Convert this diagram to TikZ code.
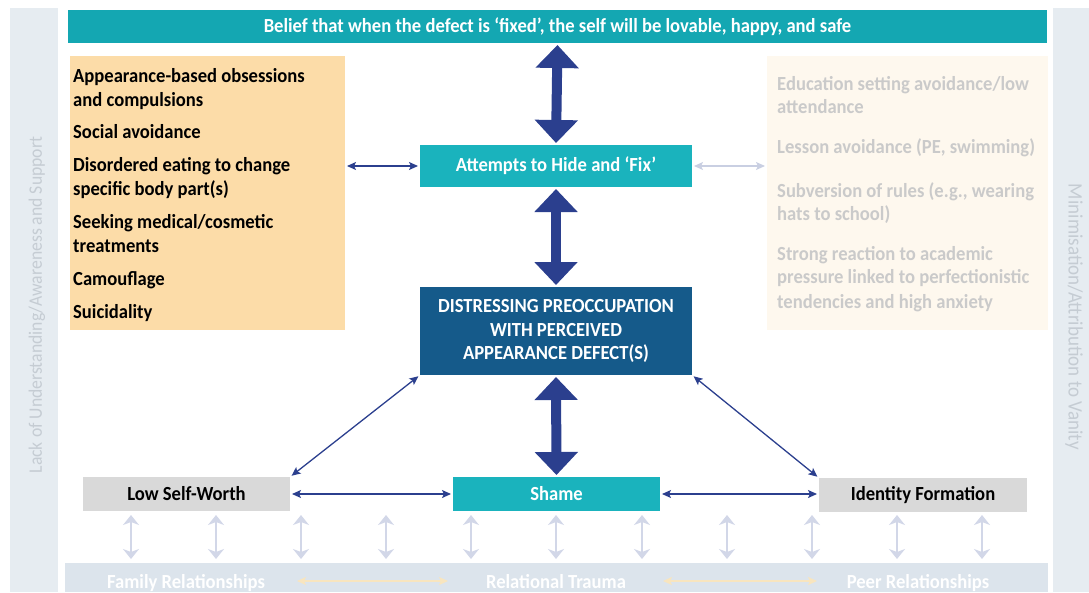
\documentclass[tikz,border=0pt]{standalone}
\usepackage{fontspec}
\setmainfont{Carlito}[FakeStretch=0.93]
\usetikzlibrary{arrows.meta}

\definecolor{tealtop}{HTML}{14A7B2}
\definecolor{tealmid}{HTML}{1AB3BD}
\definecolor{darkbox}{HTML}{155A8A}
\definecolor{navy}{HTML}{2B3F8E}
\definecolor{orangebox}{HTML}{FCDCA8}
\definecolor{creambox}{HTML}{FEF8EE}
\definecolor{fadedtext}{HTML}{CACACA}
\definecolor{greybox}{HTML}{D9D9D9}
\definecolor{sideband}{HTML}{E6ECF1}
\definecolor{sidetext}{HTML}{C5CCD3}
\definecolor{baseband}{HTML}{DCE4EC}
\definecolor{faintarrow}{HTML}{D2D7E8}
\definecolor{creamarrow}{HTML}{F8E5BF}
\definecolor{lightlink}{HTML}{C9CFE2}

\newcommand{\lbl}{\fontsize{20}{23.5}\selectfont\bfseries}

\begin{document}
\begin{tikzpicture}[x=1pt,y=-1pt,
  panel/.style={inner sep=0pt, outer sep=0pt, draw=none},
  itemtext/.style={anchor=base west, inner sep=0pt, font=\lbl},
  bigarrow/.style={draw=navy, line width=10pt,
    {Triangle[width=42pt,length=23pt]}-{Triangle[width=42pt,length=23pt]},
    shorten >=2pt, shorten <=2pt},
  link/.style={draw=navy, line width=1.3pt,
    {Stealth[length=9pt,width=8pt,inset=2pt]}-{Stealth[length=9pt,width=8pt,inset=2pt]},
    shorten >=2pt, shorten <=2pt},
  faintlink/.style={link, draw=lightlink},
  updown/.style={draw=faintarrow, line width=2.8pt,
    {Stealth[length=10pt,width=16pt,inset=3pt]}-{Stealth[length=10pt,width=16pt,inset=3pt]}},
  basearrow/.style={draw=creamarrow, line width=1.3pt,
    {Stealth[length=9pt,width=8pt,inset=2pt]}-{Stealth[length=9pt,width=8pt,inset=2pt]}}
]
\useasboundingbox (0,0) rectangle (1089,592);

% side bands
\node[panel, fill=sideband, minimum width=48pt, minimum height=584pt] (lband) at (34,300) {};
\node[panel, fill=sideband, minimum width=36pt, minimum height=584pt] (rband) at (1071,300) {};
\node[rotate=90, text=sidetext, font=\fontsize{19}{23}\selectfont, inner sep=0pt] (ltext) at (37,305)
  {Lack of Understanding/Awareness and Support};
\node[rotate=-90, text=sidetext, font=\fontsize{20.5}{23}\selectfont, inner sep=0pt] (rtext) at (1074,317)
  {Minimisation/Attribution to Vanity};

% top belief bar
\node[panel, fill=tealtop, minimum width=979pt, minimum height=33pt, text=white, font=\lbl]
  (belief) at (557.5,26.5) {Belief that when the defect is ‘fixed’, the self will be lovable, happy, and safe};

% behaviour lists
\node[panel, fill=orangebox, minimum width=275pt, minimum height=274pt] (behav) at (207.5,193) {};
\node[panel, fill=creambox, minimum width=281pt, minimum height=274pt] (school) at (907.5,193) {};

\foreach \y/\t [count=\i] in {
  82/{Appearance-based obsessions},
  106/{and compulsions},
  138/{Social avoidance},
  171/{Disordered eating to change},
  195/{specific body part(s)},
  228/{Seeking medical/cosmetic},
  252/{treatments},
  285/{Camouflage},
  318/{Suicidality}}
  \node[itemtext] (b\i) at (73,\y) {\t};

\foreach \y/\t [count=\i] in {
  90/{Education setting avoidance/low},
  113/{attendance},
  153/{Lesson avoidance (PE, swimming)},
  197/{Subversion of rules (e.g., wearing},
  220/{hats to school)},
  260/{Strong reaction to academic},
  283/{pressure linked to perfectionistic},
  308/{tendencies and high anxiety}}
  \node[itemtext, text=fadedtext] (s\i) at (777,\y) {\t};

% central column
\node[panel, fill=tealmid, minimum width=272pt, minimum height=42pt, text=white, font=\lbl]
  (hide) at (556,166) {Attempts to Hide and ‘Fix’};
\node[panel, fill=darkbox, minimum width=272pt, minimum height=88pt, text=white, font=\lbl, align=center]
  (preocc) at (556,331) {\raisebox{-2pt}{\parbox{260pt}{\centering DISTRESSING PREOCCUPATION\\WITH PERCEIVED\\APPEARANCE DEFECT(S)}}};

% bottom row
\node[panel, fill=greybox, minimum width=207pt, minimum height=34pt, font=\lbl]
  (worth) at (186.5,494) {Low Self-Worth};
\node[panel, fill=tealmid, minimum width=207pt, minimum height=34pt, text=white, font=\lbl]
  (shame) at (556.5,494) {Shame};
\node[panel, fill=greybox, minimum width=208pt, minimum height=34pt, font=\lbl]
  (identity) at (923,495) {Identity Formation};

% relationship band
\node[panel, fill=baseband, minimum width=983pt, minimum height=29pt] (rel) at (556.5,577.5) {};
\node[text=white, font=\lbl, inner sep=0pt, anchor=base] (family) at (186,588) {Family Relationships};
\node[text=white, font=\lbl, inner sep=0pt, anchor=base] (trauma) at (556,588) {Relational Trauma};
\node[text=white, font=\lbl, inner sep=0pt, anchor=base] (peer) at (918,588) {Peer Relationships};
\coordinate (fa) at (297,581);
\coordinate (fb) at (448,581);
\coordinate (pa) at (663,581);
\coordinate (pb) at (817,581);
\draw[basearrow] (fa) -- (fb);
\draw[basearrow] (pa) -- (pb);

% links between the bottom row and the band
\foreach \x [count=\i] in {131,216,301,386,471,556,642,727,812,897,982} {
  \coordinate (u\i) at (\x,515);
  \coordinate (d\i) at (\x,559);
  \draw[updown] (u\i) -- (d\i);
}

% main thick arrows
\draw[bigarrow] (belief.south) -- (hide.north);
\draw[bigarrow] (hide.south) -- (preocc.north);
\draw[bigarrow] (preocc.south) -- (shame.north);

% thin links
\draw[link] (behav.east |- hide.west) -- (hide.west);
\draw[faintlink] (hide.east) -- (school.west |- hide.east);
\draw[link] (preocc.south west) -- (worth.north east);
\draw[link] (preocc.south east) -- (identity.north west);
\draw[link] (worth.east) -- (shame.west);
\draw[link] (shame.east) -- (identity.west |- shame.east);
\end{tikzpicture}
\end{document}
